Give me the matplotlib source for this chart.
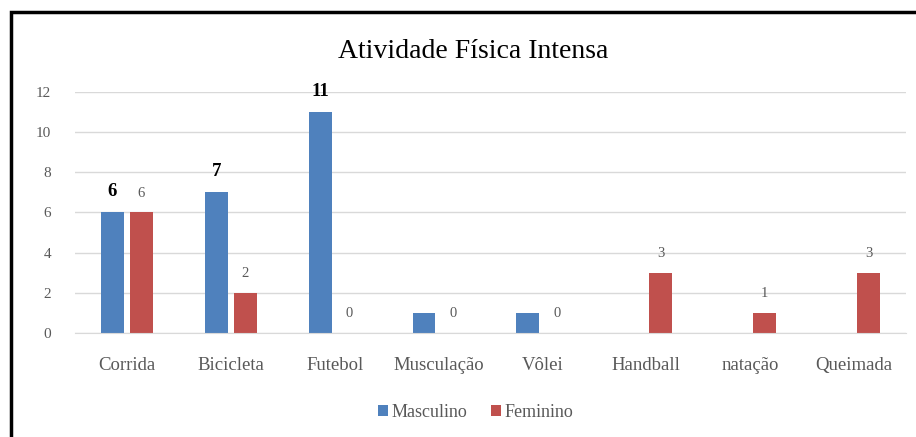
import numpy as np
import matplotlib.pyplot as plt
from matplotlib.patches import Rectangle

categorias = ['Corrida', 'Bicicleta', 'Futebol', 'Musculação', 'Vôlei', 'Handball', 'natação', 'Queimada']
masculino = [6, 7, 11, 1, 1, np.nan, np.nan, np.nan]
feminino = [6, 2, 0, 0, 0, 3, 1, 3]
rotulos_masc = ['6', '7', '11', '', '', '', '', '']
rotulos_fem = ['6', '2', '0', '0', '0', '3', '1', '3']

azul = '#4F81BD'
vermelho = '#C0504D'
cinza = '#595959'

plt.rcParams['font.family'] = ['Liberation Serif', 'DejaVu Serif']

fig = plt.figure(figsize=(9.16, 4.37), dpi=100)
ax = fig.add_axes([0.0819, 0.238, 0.9071, 0.5515])

x = np.arange(len(categorias))
w = 0.22
b1 = ax.bar(x - 0.14, masculino, w, color=azul, label='Masculino')
b2 = ax.bar(x + 0.14, feminino, w, color=vermelho, label='Feminino')

for rect, txt in zip(b1, rotulos_masc):
    if txt:
        ax.annotate(txt, (rect.get_x() + rect.get_width() / 2, rect.get_height()),
                    xytext=(0, 15), textcoords='offset points', ha='center', va='center',
                    fontsize=13.5, fontweight='bold', color='black')
for rect, txt in zip(b2, rotulos_fem):
    ax.annotate(txt, (rect.get_x() + rect.get_width() / 2, rect.get_height()),
                xytext=(0, 14), textcoords='offset points', ha='center', va='center',
                fontsize=10.5, color=cinza)

ax.set_xlim(-0.5, len(categorias) - 0.5)
ax.set_ylim(0, 12)
ax.set_yticks(range(0, 13, 2))
ax.set_xticks(x)
ax.set_xticklabels(categorias, fontsize=13.5, color=cinza)
ax.tick_params(axis='y', labelsize=11, labelcolor=cinza, length=0, pad=17)
ax.tick_params(axis='x', length=0, pad=17)
ax.yaxis.grid(True, color='#D9D9D9', linewidth=1)
ax.set_axisbelow(True)
for s in ['top', 'right', 'left']:
    ax.spines[s].set_visible(False)
ax.spines['bottom'].set_color('#D9D9D9')

fig.text(0.517, 0.882, 'Atividade Física Intensa', ha='center', va='center', fontsize=20, color='black')

ax.legend(loc='center', bbox_to_anchor=(0.519, 0.057), bbox_transform=fig.transFigure,
          ncol=2, frameon=False, fontsize=13, labelcolor=cinza,
          handlelength=0.55, handleheight=0.55, handletextpad=0.2, columnspacing=1.3)

# moldura da imagem original
fig.patches.append(Rectangle((11 / 916, -0.1), 1.2, 1 - 12 / 437 + 0.1, transform=fig.transFigure,
                             fill=False, edgecolor='black', linewidth=2.5))

fig.savefig('out.png', dpi=100)
